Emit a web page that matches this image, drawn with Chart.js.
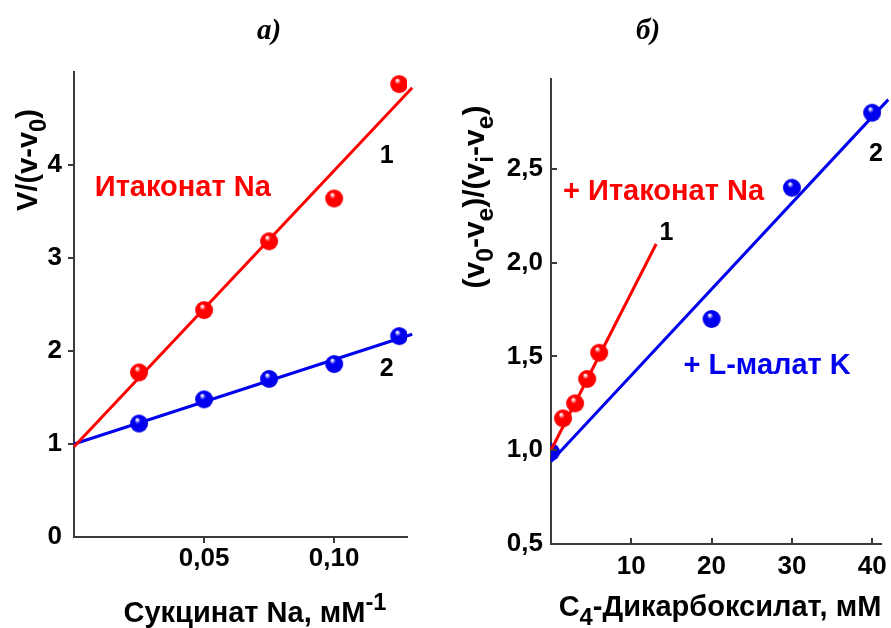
<!DOCTYPE html>
<html>
<head>
<meta charset="utf-8">
<script src="https://cdn.jsdelivr.net/npm/chart.js@4.4.1/dist/chart.umd.min.js"></script>
<style>
  html, body { margin: 0; padding: 0; background: #fff; }
  #wrap { position: relative; width: 891px; height: 628px; overflow: hidden; }
  .panel { position: absolute; top: 0; height: 628px; }
  #left { left: 0; width: 440px; }
  #right { left: 440px; width: 451px; }
</style>
</head>
<body>
<div id="wrap">
  <div class="panel" id="left"><canvas id="chartA"></canvas></div>
  <div class="panel" id="right"><canvas id="chartB"></canvas></div>
</div>
<script>
// panel а: reciprocal plot vs 1/[succinate]
const succX = [0.025, 0.05, 0.075, 0.10, 0.125];
const itaconateA = [1.77, 2.44, 3.18, 3.64, 4.87];
const noInhibitorA = [1.22, 1.48, 1.70, 1.86, 2.16];
const fitItaconateA = { x: [0, 0.13], y: [0.97, 4.83] };
const fitNoInhibitorA = { x: [0, 0.13], y: [1.0, 2.18] };
const yTicksA = [0, 1, 2, 3, 4];
const xTicksA = [0.05, 0.10];

// panel б: vs dicarboxylate concentration
const itaconateX = [1.5, 3.0, 4.5, 6.0];
const itaconateB = [1.17, 1.25, 1.38, 1.52];
const malateX = [0, 20, 30, 40];
const malateB = [0.99, 1.70, 2.40, 2.80];
const fitItaconateB = { x: [0, 13.1], y: [1.0, 2.1] };
const fitMalateB = { x: [0, 42], y: [0.94, 2.87] };
const yTicksB = [0.5, 1.0, 1.5, 2.0, 2.5];
const xTicksB = [10, 20, 30, 40];

const RED = '#ff0000';
const BLUE = '#0000ee';
const AXIS = '#3a3a3a';
const FONT = '"Liberation Sans", Arial, sans-serif';

function sphere(color, dark) {
  const r = 9, c = document.createElement('canvas');
  c.width = c.height = 2 * r + 2;
  const g = c.getContext('2d');
  const grad = g.createRadialGradient(r - 1, r - 3, 0.5, r + 1, r + 1, r + 1);
  grad.addColorStop(0, '#ffffff');
  grad.addColorStop(0.28, color);
  grad.addColorStop(0.85, color);
  grad.addColorStop(1, dark);
  g.fillStyle = grad;
  g.beginPath();
  g.arc(r + 1, r + 1, r, 0, Math.PI * 2);
  g.fill();
  return c;
}
const redBall = sphere(RED, '#c80000');
const blueBall = sphere(BLUE, '#0000a8');

const pts = (xs, ys) => xs.map((x, i) => ({ x, y: ys[i] }));

function scatter(xs, ys, ball, extra) {
  return Object.assign({
    type: 'scatter', data: pts(xs, ys), pointStyle: ball, pointRadius: 9,
    showLine: false, order: 1
  }, extra || {});
}
function fit(line, color) {
  return {
    type: 'line', data: pts(line.x, line.y), borderColor: color, borderWidth: 3,
    pointRadius: 0, fill: false, clip: false, order: 2
  };
}

// text runs: {t, s} where s = 'sub' | 'sup' | undefined
const SMALL = 0.82;
function runWidth(ctx, runs, size) {
  let w = 0;
  runs.forEach(r => {
    ctx.font = 'bold ' + (r.s ? size * SMALL : size) + 'px ' + FONT;
    w += ctx.measureText(r.t).width;
  });
  return w;
}
function drawRuns(ctx, runs, size, cx, cy, color) {
  const w = runWidth(ctx, runs, size);
  let x = cx - w / 2;
  ctx.fillStyle = color;
  ctx.textBaseline = 'alphabetic';
  ctx.textAlign = 'left';
  runs.forEach(r => {
    const fs = r.s ? size * SMALL : size;
    ctx.font = 'bold ' + fs + 'px ' + FONT;
    let dy = 0;
    if (r.s === 'sub') dy = size * 0.3;
    if (r.s === 'sup') dy = -size * 0.42;
    ctx.fillText(r.t, x, cy + dy);
    x += ctx.measureText(r.t).width;
  });
}

function decorPlugin(cfg) {
  return {
    id: 'decor',
    afterDraw(chart) {
      const ctx = chart.ctx, xs = chart.scales.x, ys = chart.scales.y;
      const a = chart.chartArea;
      ctx.save();
      // tick marks
      ctx.strokeStyle = AXIS;
      ctx.lineWidth = 2;
      const d = cfg.inside ? 1 : -1;
      ys.ticks.forEach(t => {
        const py = Math.round(ys.getPixelForValue(t.value));
        if (py < a.top || py > a.bottom - 1) return;
        ctx.beginPath();
        ctx.moveTo(a.left, py);
        ctx.lineTo(a.left + d * 6, py);
        ctx.stroke();
      });
      xs.ticks.forEach(t => {
        const px = Math.round(xs.getPixelForValue(t.value));
        ctx.beginPath();
        ctx.moveTo(px, a.bottom);
        ctx.lineTo(px, a.bottom - d * 6);
        ctx.stroke();
      });
      // panel title
      ctx.fillStyle = '#000';
      ctx.font = 'italic bold 29px "Liberation Serif", "Times New Roman", serif';
      ctx.textAlign = 'center';
      ctx.textBaseline = 'alphabetic';
      ctx.fillText(cfg.title, cfg.titleX, 39);
      // axis titles
      drawRuns(ctx, cfg.xTitle, 29, cfg.xTitleX, cfg.xTitleY, '#000');
      ctx.save();
      ctx.translate(cfg.yTitleX, cfg.yTitleY);
      ctx.rotate(-Math.PI / 2);
      drawRuns(ctx, cfg.yTitle, cfg.yTitleSize, 0, 0, '#000');
      ctx.restore();
      // annotations in data coordinates
      cfg.notes.forEach(n => {
        ctx.font = 'bold ' + n.size + 'px ' + FONT;
        ctx.fillStyle = n.color;
        ctx.textAlign = 'left';
        ctx.textBaseline = 'middle';
        ctx.fillText(n.text, xs.getPixelForValue(n.x), ys.getPixelForValue(n.y));
      });
      ctx.restore();
    }
  };
}

function axes(xMin, xMax, yMin, yMax, xTicks, yTicks, fmtX, fmtY, yPad, xPad, yWidth, xHeight) {
  const tickFont = { family: FONT, size: 26, weight: 'bold' };
  return {
    x: {
      type: 'linear', min: xMin, max: xMax,
      grid: { display: false, drawTicks: false },
      border: { display: true, color: AXIS, width: 2 },
      afterBuildTicks: s => { s.ticks = xTicks.map(v => ({ value: v })); },
      // keep the plot edges where the layout padding puts them
      afterFit: s => { s.height = xHeight; s.paddingLeft = 0; s.paddingRight = 0; },
      ticks: { color: '#000', font: tickFont, padding: xPad, maxRotation: 0, callback: fmtX }
    },
    y: {
      type: 'linear', min: yMin, max: yMax,
      grid: { display: false, drawTicks: false },
      border: { display: true, color: AXIS, width: 2 },
      afterBuildTicks: s => { s.ticks = yTicks.map(v => ({ value: v })); },
      afterFit: s => { s.width = yWidth; s.paddingTop = 0; s.paddingBottom = 0; },
      ticks: { color: '#000', font: tickFont, padding: yPad, callback: fmtY }
    }
  };
}

const comma = (digits) => v => v.toFixed(digits).replace('.', ',');

new Chart(document.getElementById('chartA'), {
  data: {
    datasets: [
      fit(fitItaconateA, RED),
      fit(fitNoInhibitorA, BLUE),
      scatter(succX, itaconateA, redBall),
      scatter(succX, noInhibitorA, blueBall)
    ]
  },
  options: {
    responsive: true, maintainAspectRatio: false, animation: false,
    layout: { padding: { left: 0, right: 33, top: 72, bottom: 0 } },
    plugins: { legend: { display: false }, tooltip: { enabled: false } },
    scales: axes(0, 0.128, 0, 5, xTicksA, yTicksA, comma(2), v => String(v), 12, 6, 74, 91)
  },
  plugins: [decorPlugin({
    inside: false, title: 'а)', titleX: 269,
    xTitle: [{ t: 'Сукцинат Na, мМ' }, { t: '-1', s: 'sup' }], xTitleX: 255, xTitleY: 622,
    yTitle: [{ t: 'V/(v-v' }, { t: '0', s: 'sub' }, { t: ')' }], yTitleSize: 29,
    yTitleX: 37, yTitleY: 160,
    notes: [
      { text: 'Итаконат Na', x: 0.008, y: 3.75, size: 29, color: RED },
      { text: '1', x: 0.1175, y: 4.10, size: 25, color: '#000' },
      { text: '2', x: 0.1175, y: 1.8, size: 25, color: '#000' }
    ]
  })]
});

new Chart(document.getElementById('chartB'), {
  data: {
    datasets: [
      fit(fitItaconateB, RED),
      fit(fitMalateB, BLUE),
      scatter(malateX, malateB, blueBall, { clip: 0, order: 3 }),
      scatter(itaconateX, itaconateB, redBall)
    ]
  },
  options: {
    responsive: true, maintainAspectRatio: false, animation: false,
    layout: { padding: { left: 0, right: 8, top: 79, bottom: 0 } },
    plugins: { legend: { display: false }, tooltip: { enabled: false } },
    scales: axes(0, 41.1, 0.5, 2.98, xTicksB, yTicksB, v => String(v), comma(1), 8, 7, 111, 84)
  },
  plugins: [decorPlugin({
    inside: true, title: 'б)', titleX: 208,
    xTitle: [{ t: 'C' }, { t: '4', s: 'sub' }, { t: '-Дикарбоксилат, мМ' }], xTitleX: 280, xTitleY: 616,
    yTitle: [{ t: '(v' }, { t: '0', s: 'sub' }, { t: '-v' }, { t: 'e', s: 'sub' }, { t: ')/(v' }, { t: 'i', s: 'sub' }, { t: '-v' }, { t: 'e', s: 'sub' }, { t: ')' }],
    yTitleSize: 30, yTitleX: 44, yTitleY: 197,
    notes: [
      { text: '+ Итаконат Na', x: 1.5, y: 2.38, size: 29, color: RED },
      { text: '1', x: 13.5, y: 2.16, size: 25, color: '#000' },
      { text: '+ L-малат K', x: 16.5, y: 1.45, size: 29, color: BLUE },
      { text: '2', x: 39.6, y: 2.58, size: 25, color: '#000' }
    ]
  })]
});
</script>
</body>
</html>
